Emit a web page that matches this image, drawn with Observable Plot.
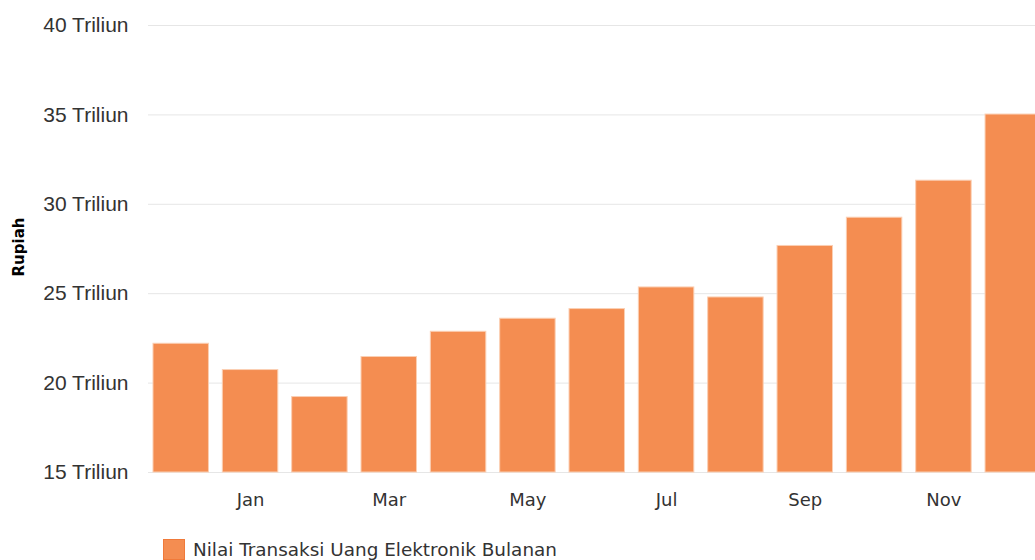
<!DOCTYPE html>
<html>
<head>
<meta charset="utf-8">
<script src="https://cdn.jsdelivr.net/npm/d3@7"></script>
<script src="https://cdn.jsdelivr.net/npm/@observablehq/plot@0.6"></script>
<style>
  html, body { margin: 0; padding: 0; background: #fff; overflow: hidden; width: 1035px; height: 560px; }
  #chart svg { display: block; }
  .legend { display: flex; align-items: center; margin-left: 163px; margin-top: 7px;
    font-family: "DejaVu Sans", sans-serif; font-size: 18.4px; color: #333; }
  .legend .sw { width: 22px; height: 21px; background: #f48d51; border: 1px solid #f07a3a; box-sizing: border-box; margin-right: 8px; }
</style>
</head>
<body>
<div id="chart"></div>
<script>
// Data
const periods = ["2017-12","2018-01","2018-02","2018-03","2018-04","2018-05","2018-06","2018-07","2018-08","2018-09","2018-10","2018-11","2018-12"];
const values = [22.2, 20.73, 19.22, 21.46, 22.87, 23.6, 24.14, 25.35, 24.79, 27.67, 29.25, 31.32, 35.02];
const monthNames = ["Jan","Feb","Mar","Apr","May","Jun","Jul","Aug","Sep","Oct","Nov","Dec"];
const xTicks = ["2018-01","2018-03","2018-05","2018-07","2018-09","2018-11"];
const yTicks = [15, 20, 25, 30, 35, 40];
const seriesName = "Nilai Transaksi Uang Elektronik Bulanan";
const yTitle = "Rupiah";

const data = periods.map((p, i) => ({period: p, value: values[i]}));
const yMin = yTicks[0];

const chart = Plot.plot({
  width: 1035,
  height: 532,
  marginLeft: 148,
  marginRight: 0,
  marginTop: 25,
  marginBottom: 60,
  style: {background: "#fff", overflow: "hidden"},
  x: {domain: periods, range: [148, 1045.5], paddingInner: 0.2, paddingOuter: 0.072, round: false, axis: null},
  y: {domain: [yTicks[0], yTicks[yTicks.length - 1]], axis: null},
  marks: [
    Plot.gridY(yTicks, {stroke: "#e6e6e6", strokeOpacity: 1, strokeWidth: 1}),
    Plot.barY(data, {x: "period", y1: yMin, y2: "value", fill: "#f48d51", stroke: "#fbcfb3", strokeWidth: 1}),
    Plot.axisY(yTicks, {tickSize: 0, tickPadding: 20, tickFormat: d => `${d} Triliun`,
      fontFamily: "Liberation Sans, Arial, sans-serif", fontSize: 21, fill: "#333", label: null}),
    Plot.axisX(xTicks, {tickSize: 0, tickPadding: 21, tickFormat: d => monthNames[+d.slice(5) - 1],
      fontFamily: "DejaVu Sans, sans-serif", fontSize: 18, fill: "#333", label: null}),
    Plot.text([yTitle], {frameAnchor: "left", textAnchor: "middle", dx: -129, dy: -2, rotate: -90, text: d => d,
      fontFamily: "DejaVu Sans, sans-serif", fontWeight: "bold", fontSize: 15, fill: "#000"})
  ]
});
document.getElementById("chart").appendChild(chart);

const leg = document.createElement("div");
leg.className = "legend";
leg.innerHTML = `<span class="sw"></span><span></span>`;
leg.lastChild.textContent = seriesName;
document.body.appendChild(leg);
</script>
</body>
</html>
